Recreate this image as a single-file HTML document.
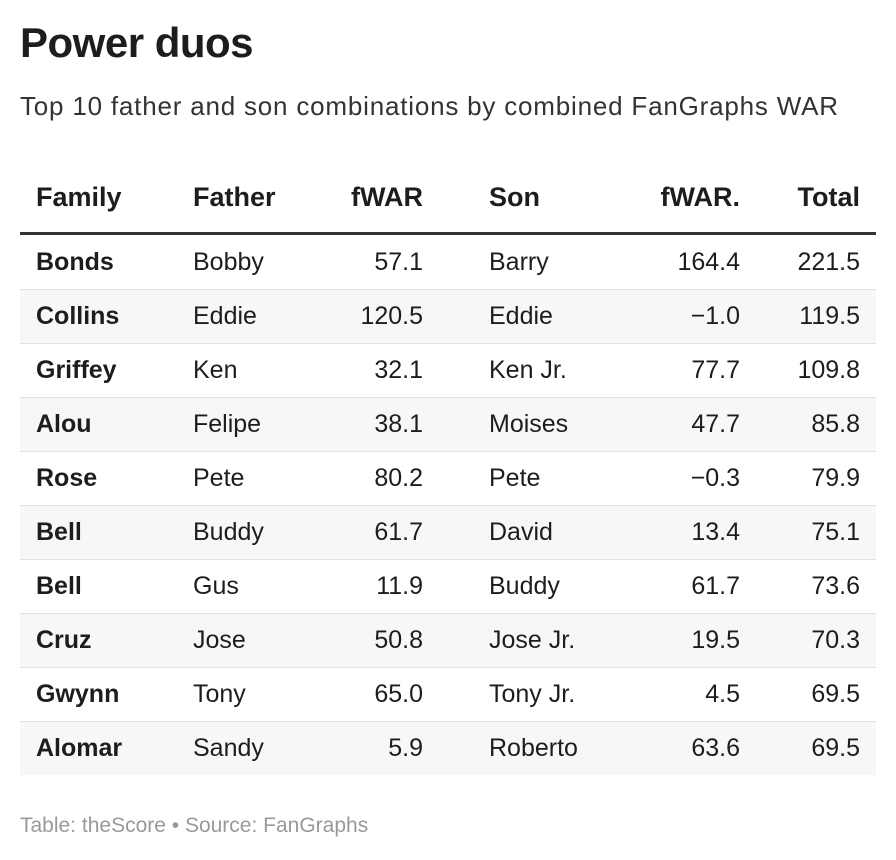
<!DOCTYPE html>
<html><head><style>
body{margin:0;width:896px;height:860px;background:#fff;font-family:"Liberation Sans",Arial,sans-serif;color:#1d1d1d;position:relative;overflow:hidden}
.t{position:absolute;left:20px;top:19px;font-size:42px;font-weight:bold;letter-spacing:-0.5px}
.s{position:absolute;left:20px;top:91px;font-size:26px;letter-spacing:0.8px;color:#333}
.f{position:absolute;left:20px;top:814px;font-size:21px;color:#999}
.hdr{position:absolute;left:20px;top:176px;width:856px;height:56px;border-bottom:3px solid #333}
.row{position:absolute;left:20px;width:856px;height:53px;border-bottom:1px solid #e2e2e2}
.c{position:absolute;top:0;line-height:53px;font-size:25px;white-space:nowrap}
.hdr .c{font-size:27px;font-weight:bold;line-height:42px}
.r{text-align:right}
</style></head><body>
<div class="t">Power duos</div>
<div class="s">Top 10 father and son combinations by combined FanGraphs WAR</div>
<div class="hdr">
<div class="c" style="left:16px">Family</div>
<div class="c" style="left:173px">Father</div>
<div class="c r" style="right:453px">fWAR</div>
<div class="c" style="left:469px">Son</div>
<div class="c r" style="right:136px">fWAR.</div>
<div class="c r" style="right:16px">Total</div>
</div>
<div id="rows"></div>
<div class="f">Table: theScore • Source: FanGraphs</div>
<script>
var d=[["Bonds","Bobby","57.1","Barry","164.4","221.5"],["Collins","Eddie","120.5","Eddie","−1.0","119.5"],["Griffey","Ken","32.1","Ken Jr.","77.7","109.8"],["Alou","Felipe","38.1","Moises","47.7","85.8"],["Rose","Pete","80.2","Pete","−0.3","79.9"],["Bell","Buddy","61.7","David","13.4","75.1"],["Bell","Gus","11.9","Buddy","61.7","73.6"],["Cruz","Jose","50.8","Jose Jr.","19.5","70.3"],["Gwynn","Tony","65.0","Tony Jr.","4.5","69.5"],["Alomar","Sandy","5.9","Roberto","63.6","69.5"]];
var h="";
d.forEach(function(r,i){
h+='<div class="row" style="top:'+(236+i*54)+'px;background:'+(i%2?'#f7f7f7':'#fff')+(i==9?';border-bottom:none':'')+'">'+
'<div class="c" style="left:16px;font-weight:bold">'+r[0]+'</div>'+
'<div class="c" style="left:173px">'+r[1]+'</div>'+
'<div class="c r" style="right:453px">'+r[2]+'</div>'+
'<div class="c" style="left:469px">'+r[3]+'</div>'+
'<div class="c r" style="right:136px">'+r[4]+'</div>'+
'<div class="c r" style="right:16px">'+r[5]+'</div></div>';});
document.getElementById("rows").innerHTML=h;
</script>
</body></html>
